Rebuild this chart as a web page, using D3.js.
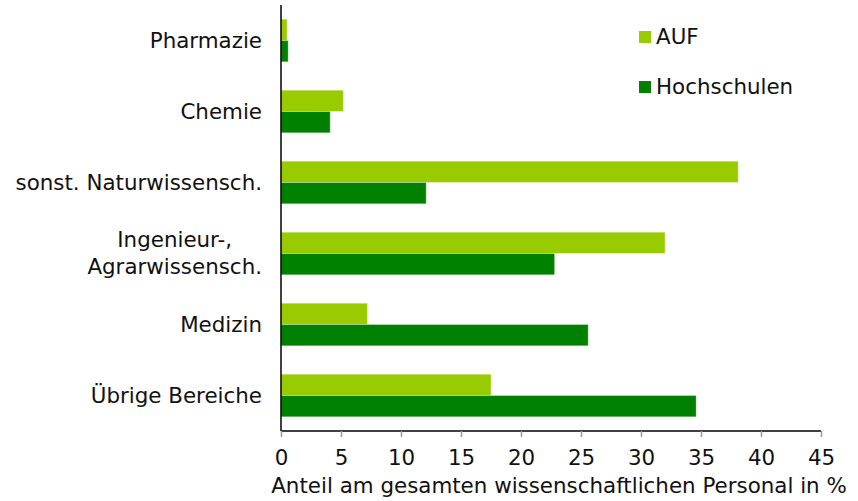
<!DOCTYPE html>
<html>
<head>
<meta charset="utf-8">
<script src="https://cdn.jsdelivr.net/npm/d3@7"></script>
<style>
  body { margin: 0; background: #fff; }
  svg text { font-family: "DejaVu Sans", Verdana, sans-serif; fill: #111; }
</style>
</head>
<body>
<svg width="858" height="501"></svg>
<script>
const categories = ["Pharmazie", "Chemie", "sonst. Naturwissensch.", "Ingenieur-,\nAgrarwissensch.", "Medizin", "Übrige Bereiche"]
const seriesNames = ["AUF", "Hochschulen"]
const aufValues = [0.5, 5.2, 38.1, 32.0, 7.2, 17.5]
const hochschulValues = [0.6, 4.1, 12.1, 22.8, 25.6, 34.6]
const xTicks = [0, 5, 10, 15, 20, 25, 30, 35, 40, 45]
const axisTitle = "Anteil am gesamten wissenschaftlichen Personal in %"
const colors = ["#99cc00", "#008000"]

const rows = categories.map((c, i) => ({ cat: c, values: [aufValues[i], hochschulValues[i]] }))

const svg = d3.select("svg")
const plotLeft = 281, plotRight = 821, plotTop = 5, plotBottom = 431
const fontSize = "21.4px"

const x = d3.scaleLinear().domain([0, 45]).range([plotLeft, plotRight])
const y = d3.scaleBand().domain(categories).range([plotTop, plotBottom])
    .paddingInner(0.4).paddingOuter(0.2)
const ySub = d3.scaleBand().domain([0, 1]).range([0, y.bandwidth()])

const groups = svg.append("g").selectAll("g")
    .data(rows).enter()
    .append("g")
    .attr("transform", d => "translate(0," + y(d.cat) + ")")

groups.selectAll("rect")
    .data(d => d.values).enter()
    .append("rect")
    .attr("x", x(0))
    .attr("y", (d, i) => ySub(i))
    .attr("width", d => x(d) - x(0))
    .attr("height", ySub.bandwidth())
    .style("fill", (d, i) => colors[i])
    .style("stroke", "rgba(255,255,255,0.35)")
    .style("stroke-width", 1)

// x axis
const xAxis = svg.append("g")
    .attr("transform", "translate(0," + plotBottom + ")")
    .call(d3.axisBottom(x).tickValues(xTicks).tickSize(6).tickPadding(13))
xAxis.select(".domain").attr("stroke", "#000").attr("stroke-width", 1.5)
    .attr("d", "M" + plotLeft + ",0H" + plotRight)
xAxis.selectAll(".tick line").attr("stroke", "#999").attr("stroke-width", 1.5)
xAxis.selectAll(".tick text").style("font-size", fontSize).attr("fill", "#111")
    .style("font-family", "'DejaVu Sans', Verdana, sans-serif")

// y axis line
svg.append("line")
    .attr("x1", plotLeft).attr("x2", plotLeft)
    .attr("y1", plotTop).attr("y2", plotBottom)
    .attr("stroke", "#000").attr("stroke-width", 1.5)

// category labels, multi-line blocks centred on themselves and right aligned
const labelRight = 262
const lineH = 27
svg.append("g").selectAll("g.label")
    .data(categories).enter()
    .append("g")
    .attr("class", "label")
    .each(function (c) {
        const lines = c.split("\n")
        const g = d3.select(this)
        const cy = y(c) + y.bandwidth() / 2
        const texts = g.selectAll("text").data(lines).enter()
            .append("text")
            .style("font-size", fontSize)
            .attr("y", (l, i) => cy + (i - (lines.length - 1) / 2) * lineH)
            .attr("dy", "0.35em")
            .attr("text-anchor", "middle")
            .text(l => l)
        let maxW = 0
        texts.each(function () { maxW = Math.max(maxW, this.getComputedTextLength()) })
        texts.attr("x", labelRight - maxW / 2)
    })

svg.append("text")
    .attr("x", 559).attr("y", 493)
    .attr("text-anchor", "middle")
    .style("font-size", fontSize)
    .text(axisTitle)

// legend
const legend = svg.append("g").selectAll("g")
    .data(seriesNames).enter()
    .append("g")
    .attr("transform", (d, i) => "translate(639," + (31 + i * 50) + ")")
legend.append("rect")
    .attr("width", 12).attr("height", 12)
    .style("fill", (d, i) => colors[i])
legend.append("text")
    .attr("x", 17).attr("y", 13)
    .style("font-size", fontSize)
    .text(d => d)
</script>
</body>
</html>
